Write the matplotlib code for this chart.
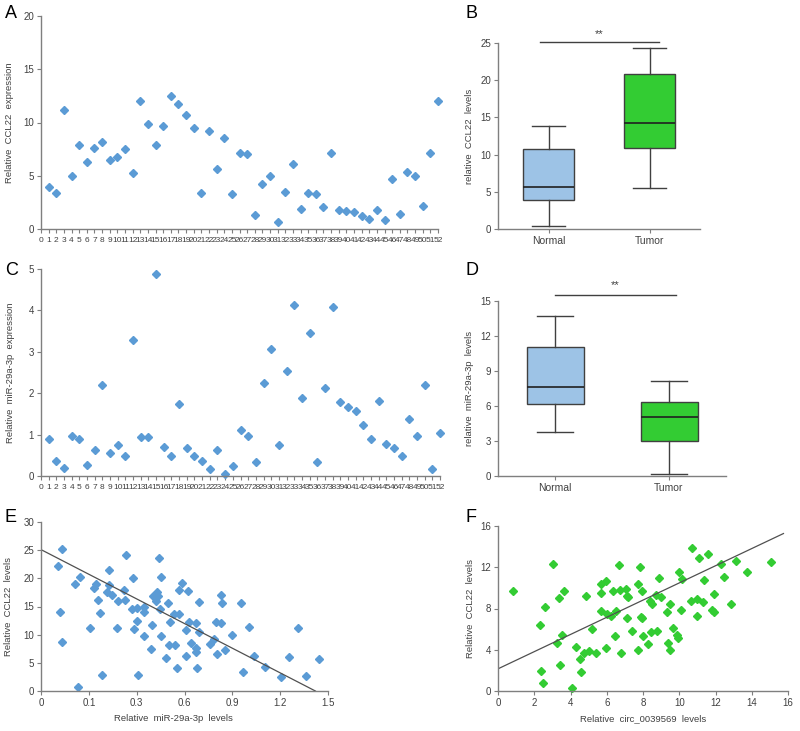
import matplotlib
matplotlib.use("Agg")
import matplotlib.pyplot as plt
import numpy as np

plt.rcParams['font.family'] = ['Liberation Sans', 'DejaVu Sans']

# ---------------- data ----------------
a_idx = list(range(1, 53))
a_vals = [3.9, 3.4, 11.2, 5.0, 7.9, 6.3, 7.6, 8.2, 6.5, 6.8, 7.5, 5.3, 12.0, 9.9, 7.9, 9.7,
          12.5, 11.7, 10.7, 9.5, 3.4, 9.2, 5.6, 8.5, 3.3, 7.1, 7.0, 1.3, 4.2, 5.0, 0.7, 3.45,
          6.1, 1.85, 3.4, 3.3, 2.05, 7.1, 1.8, 1.7, 1.6, 1.2, 0.9, 1.8, 0.8, 4.65, 1.45, 5.35,
          5.0, 2.15, 7.15, 12.0]

c_vals = [0.89, 0.37, 0.19, 0.97, 0.89, 0.26, 0.64, 2.2, 0.55, 0.76, 0.49, 3.28, 0.95, 0.95,
          4.87, 0.69, 0.49, 1.75, 0.68, 0.49, 0.37, 0.16, 0.62, 0.04, 0.23, 1.12, 0.97, 0.34,
          2.25, 3.07, 0.76, 2.53, 4.13, 1.89, 3.45, 0.34, 2.13, 4.08, 1.79, 1.67, 1.56, 1.23,
          0.89, 1.81, 0.78, 0.67, 0.49, 1.38, 0.97, 2.19, 0.18, 1.05]

groups = ['Normal', 'Tumor']
# boxplot B: (whislo, q1, med, q3, whishi)
b_normal = [0.45, 3.93, 5.71, 10.8, 13.84]
b_tumor = [5.49, 10.85, 14.24, 20.85, 24.33]
# boxplot D
d_normal = [3.81, 6.13, 7.67, 11.02, 13.74]
d_tumor = [0.17, 3.0, 5.1, 6.33, 8.16]

e_x = [0.089, 0.111, 0.098, 0.111, 0.193, 0.179, 0.204, 0.256, 0.279, 0.286, 0.300, 0.308,
       0.319, 0.357, 0.345, 0.355, 0.369, 0.397, 0.401, 0.436, 0.439, 0.444, 0.474, 0.479,
       0.486, 0.502, 0.503, 0.509, 0.537, 0.537, 0.538, 0.573, 0.580, 0.585, 0.601, 0.606,
       0.617, 0.611, 0.622, 0.626, 0.629, 0.655, 0.664, 0.669, 0.676, 0.700, 0.697, 0.721,
       0.713, 0.723, 0.739, 0.758, 0.760, 0.770, 0.772, 0.782, 0.812, 0.812, 0.812, 0.817,
       0.826, 0.827, 0.883, 0.904, 0.913, 0.922, 0.941, 0.944, 0.941, 0.963, 0.998, 1.047,
       1.054, 1.087, 1.111, 1.172, 1.256, 1.298, 1.343, 1.387, 1.455]
e_y = [22.2, 25.2, 14.1, 8.7, 0.7, 19.05, 20.3, 11.1, 18.2, 19.0, 16.1, 13.8,
       2.8, 21.5, 17.5, 18.9, 17.1, 11.2, 15.9, 18.0, 16.2, 24.1, 14.6, 20.1,
       11.0, 12.5, 14.8, 2.8, 15.0, 14.0, 9.8, 7.4, 11.7, 16.8, 15.9, 17.5,
       23.6, 16.9, 14.5, 20.2, 9.7, 5.9, 15.6, 8.2, 12.3, 8.1, 13.7, 13.7,
       4.0, 18.0, 19.2, 10.9, 6.2, 17.8, 12.3, 8.6, 12.0, 7.6, 6.9, 4.1,
       10.4, 15.8, 8.4, 9.3, 12.3, 6.6, 17.1, 15.6, 12.0, 7.3, 10.0, 15.6,
       3.4, 11.4, 6.2, 4.3, 2.4, 6.0, 11.1, 2.7, 5.7]
e_fit_x = [0.0, 1.434]
e_fit_y = [25.1, 0.0]
e_tick_pos = [0, 0.25, 0.5, 0.75, 1.0, 1.25, 1.5]
e_tick_lab = ['0', '0.1', '0.3', '0.6', '0.9', '1.2', '1.5']

f_x = [0.83, 2.30, 2.38, 2.50, 2.58, 3.06, 3.26, 3.35, 3.43, 3.52, 3.66, 4.09, 4.29, 4.55,
       4.60, 4.73, 4.86, 5.01, 5.16, 5.38, 5.67, 5.71, 5.71, 5.97, 5.95, 6.04, 6.26, 6.37,
       6.43, 6.52, 6.69, 6.72, 6.76, 7.05, 7.09, 7.09, 7.18, 7.42, 7.72, 7.70, 7.85, 7.90,
       7.97, 7.96, 8.01, 8.29, 8.38, 8.43, 8.49, 8.71, 8.78, 8.89, 8.97, 9.32, 9.37, 9.48,
       9.50, 9.63, 9.89, 9.93, 10.0, 10.11, 10.13, 10.68, 10.63, 10.96, 11.0, 11.1, 11.29,
       11.34, 11.57, 11.79, 11.9, 11.93, 12.32, 12.47, 12.85, 13.13, 13.74, 15.06]
f_y = [9.68, 6.44, 1.94, 0.78, 8.19, 12.33, 4.69, 9.0, 2.56, 5.4, 9.74, 0.26, 4.27, 3.14,
       1.84, 3.66, 9.22, 3.85, 6.05, 3.66, 7.8, 9.5, 10.39, 10.65, 4.17, 7.48, 7.31, 9.74,
       5.31, 7.77, 12.2, 9.77, 3.66, 9.9, 9.22, 7.06, 9.09, 5.79, 3.95, 10.39, 12.0, 7.22,
       7.09, 9.68, 5.31, 4.56, 8.71, 5.76, 8.48, 9.32, 5.79, 10.94, 9.16, 7.67, 4.69, 8.45,
       4.01, 6.12, 5.44, 5.11, 11.52, 7.86, 10.84, 13.85, 8.74, 7.31, 8.93, 12.91, 8.67,
       10.74, 13.33, 7.86, 9.42, 7.64, 12.3, 11.1, 8.41, 12.59, 11.52, 12.49]
f_fit_x = [0.0, 15.75]
f_fit_y = [2.15, 15.27]

# ---------------- style ----------------
W, H = 800, 731
fig = plt.figure(figsize=(W / 100, H / 100), dpi=100)
BLUE = '#5B9BD5'
GREEN = '#33CC33'
LBLUE = '#9DC3E6'
SP = '#7f7f7f'
TXT = '#404040'
MS = 3.8


def add_ax(l, r, t, b):
    return fig.add_axes([l / W, 1 - b / H, (r - l) / W, (b - t) / H])


def style(ax):
    for s in ['top', 'right']:
        ax.spines[s].set_visible(False)
    for s in ['left', 'bottom']:
        ax.spines[s].set_color(SP)
        ax.spines[s].set_linewidth(1.0)
    ax.tick_params(colors=SP, labelcolor=TXT, labelsize=7, length=3, width=0.8, pad=2)


def ylab(ax, text, xpix, l, r):
    # xpix = centre of the rotated label; anchor is its right edge
    ax.set_ylabel(text, fontsize=6.8, color=TXT)
    ax.yaxis.set_label_coords((xpix + 4.5 - l) / (r - l), 0.5)


def letter(x, y, s):
    fig.text(x / W, 1 - y / H, s, fontsize=13, ha='left', va='center', color='black')


# ---- A ----
l, r, t, b = 41, 438, 16, 229
ax = add_ax(l, r, t, b)
style(ax)
ax.plot(a_idx, a_vals, 'D', color=BLUE, ms=MS, mec=BLUE, clip_on=False)
ax.set_xlim(0, 52)
ax.set_ylim(0, 20)
ax.set_yticks([0, 5, 10, 15, 20])
ax.set_xticks(range(0, 53))
ax.set_xticklabels([str(i) for i in range(0, 53)], fontsize=6.0)
ax.tick_params(axis='x', length=3, pad=3)
ylab(ax, 'Relative  CCL22  expression', 10, l, r)
letter(5, 14, 'A')

# ---- C ----
l, r, t, b = 41, 440, 269, 476
ax = add_ax(l, r, t, b)
style(ax)
ax.plot(a_idx, c_vals, 'D', color=BLUE, ms=MS, mec=BLUE, clip_on=False)
ax.set_xlim(0, 52)
ax.set_ylim(0, 5)
ax.set_yticks([0, 1, 2, 3, 4, 5])
ax.set_xticks(range(0, 53))
ax.set_xticklabels([str(i) for i in range(0, 53)], fontsize=6.0)
ax.tick_params(axis='x', length=3, pad=3)
ylab(ax, 'Relative  miR-29a-3p  expression', 11, l, r)
letter(5, 271, 'C')


def boxpanel(l, r, t, b, normal, tumor, ylim, yticks, sig_x, sig_y, star_y, ylabel):
    ax = add_ax(l, r, t, b)
    style(ax)
    stats = []
    for name, v in zip(groups, [normal, tumor]):
        stats.append(dict(label=name, whislo=v[0], q1=v[1], med=v[2], q3=v[3], whishi=v[4], fliers=[]))
    bp = ax.bxp(stats, positions=[1, 2], widths=0.5, capwidths=0.32, showfliers=False,
                patch_artist=True,
                boxprops=dict(linewidth=1.0, edgecolor='#404040'),
                whiskerprops=dict(color='#404040', linewidth=1.0),
                capprops=dict(color='#404040', linewidth=1.0),
                medianprops=dict(color='#202020', linewidth=1.2))
    for patch, c in zip(bp['boxes'], [LBLUE, GREEN]):
        patch.set_facecolor(c)
    ax.set_xlim(0.5, 2.5)
    ax.set_ylim(*ylim)
    ax.set_yticks(yticks)
    ax.set_xticks([1, 2])
    ax.set_xticklabels(groups, fontsize=7.5)
    ax.plot(sig_x, [sig_y, sig_y], color='#404040', lw=1.0, clip_on=False)
    ax.text(np.mean(sig_x), star_y, '**', ha='center', va='center', fontsize=8, color=TXT)
    ylab(ax, ylabel, 469, l, r)
    return ax


boxpanel(498, 700, 43, 229, b_normal, b_tumor, (0, 25), [0, 5, 10, 15, 20, 25],
         [0.92, 2.09], 25.2, 26.2, 'relative  CCL22  levels')
letter(465, 13, 'B')

boxpanel(498, 726, 301, 476, d_normal, d_tumor, (0, 15), [0, 3, 6, 9, 12, 15],
         [1.0, 2.06], 15.55, 16.35, 'relative  miR-29a-3p  levels')
letter(465, 271, 'D')

# ---- E ----
l, r, t, b = 41, 328, 522, 691
ax = add_ax(l, r, t, b)
style(ax)
ax.plot(e_x, e_y, 'D', color=BLUE, ms=MS, mec=BLUE, clip_on=False)
ax.plot(e_fit_x, e_fit_y, color='#505050', lw=0.9)
ax.set_xlim(0, 1.5)
ax.set_ylim(0, 30)
ax.set_yticks([0, 5, 10, 15, 20, 25, 30])
ax.set_xticks(e_tick_pos)
ax.set_xticklabels(e_tick_lab)
ax.set_xlabel('Relative  miR-29a-3p  levels', fontsize=6.8, color=TXT)
ax.xaxis.set_label_coords((173 - l) / (r - l), -(714 - b) / (b - t))
ylab(ax, 'Relative  CCL22  levels', 9, l, r)
letter(5, 518, 'E')

# ---- F ----
l, r, t, b = 498, 788, 526, 691
ax = add_ax(l, r, t, b)
style(ax)
ax.plot(f_x, f_y, 'D', color=GREEN, ms=MS, mec=GREEN, clip_on=False)
ax.plot(f_fit_x, f_fit_y, color='#505050', lw=0.9)
ax.set_xlim(0, 16)
ax.set_ylim(0, 16)
ax.set_yticks([0, 4, 8, 12, 16])
ax.set_xticks(range(0, 17, 2))
ax.set_xlabel('Relative  circ_0039569  levels', fontsize=6.8, color=TXT)
ax.xaxis.set_label_coords(0.5, -(714 - b) / (b - t))
ylab(ax, 'Relative  CCL22  levels', 470, l, r)
letter(465, 517, 'F')

fig.savefig('out.png', dpi=100, facecolor='white')
